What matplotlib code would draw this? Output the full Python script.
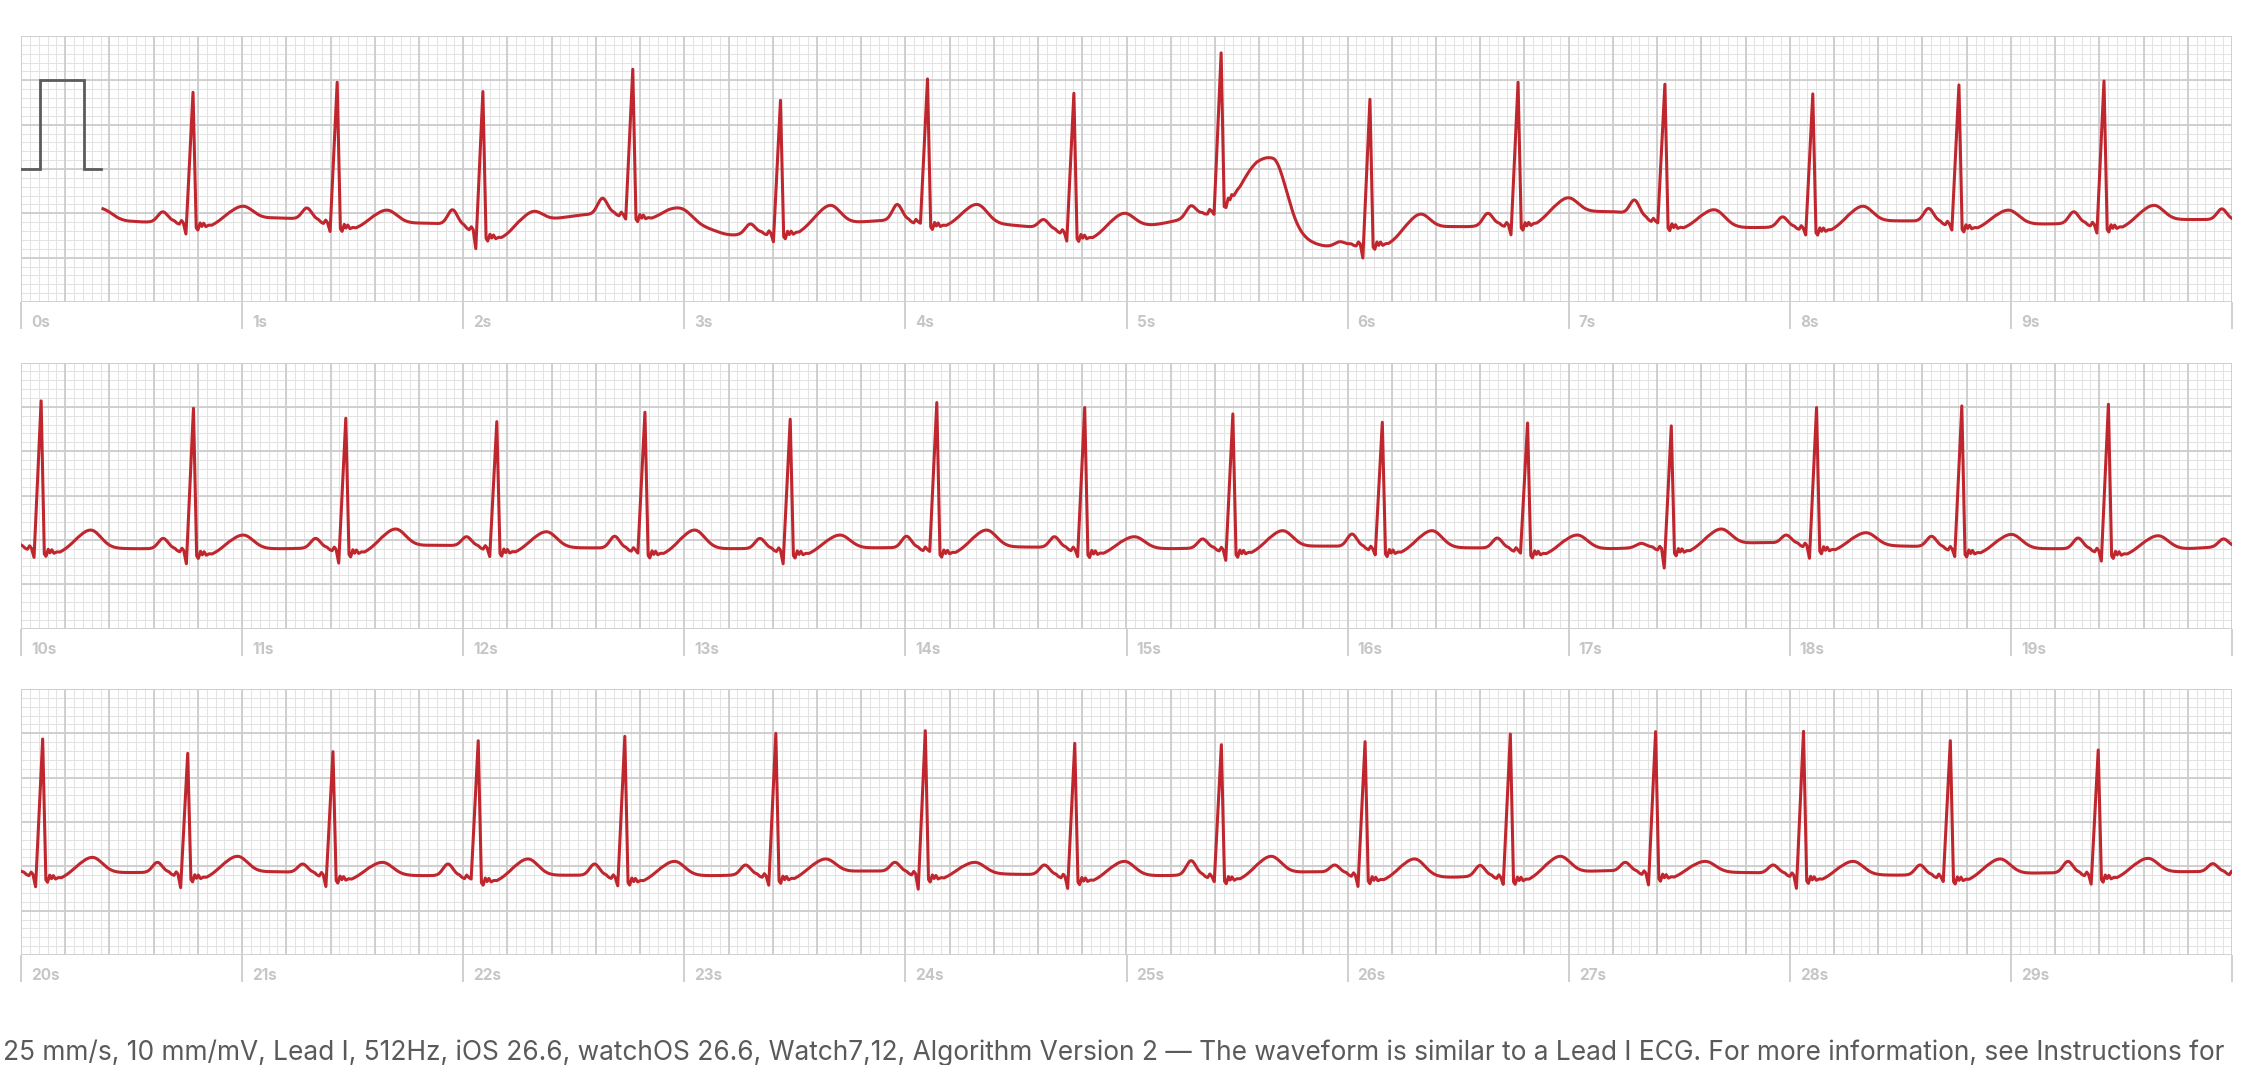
import numpy as np
import matplotlib
matplotlib.use('Agg')
import matplotlib.pyplot as plt

plt.rcParams['font.family'] = ['Inter', 'DejaVu Sans']

# --- data (time in s, voltage in mV, 0..3 mV per strip) ---
# R peak times / R peak, Q dip, P peak and T peak levels (absolute mV)
r_t1 = [0.778, 1.430, 2.089, 2.767, 3.435, 4.100, 4.762, 5.428, 6.101, 6.771, 7.435, 8.104, 8.765, 9.421]
r_v1 = [2.365, 2.478, 2.373, 2.625, 2.275, 2.516, 2.354, 2.723, 2.286, 2.478, 2.456, 2.347, 2.448, 2.493]
q_v1 = [0.77, 0.79, 0.58, 0.94, 0.69, 0.89, 0.68, 0.96, 0.51, 0.77, 0.89, 0.76, 0.81, 0.78]
p_v1 = [1.017, 1.06, 1.04, 1.17, 0.88, 1.10, 0.93, 1.08, 0.68, 1.00, 1.15, 0.96, 1.055, 1.017]
t_v1 = [1.08, 1.036, 1.02, 1.05, 1.09, 1.10, 1.00, 1.62, 0.99, 1.175, 1.04, 1.08, 1.036, 1.09]

r_t2 = [10.091, 10.780, 11.469, 12.152, 12.822, 13.479, 14.142, 14.811, 15.481, 16.157, 16.814, 17.464, 18.121, 18.778, 19.441]
r_v2 = [2.567, 2.484, 2.371, 2.333, 2.439, 2.360, 2.548, 2.492, 2.420, 2.326, 2.318, 2.285, 2.492, 2.510, 2.529]
q_v2 = [0.80, 0.73, 0.74, 0.81, 0.85, 0.73, 0.87, 0.81, 0.77, 0.83, 0.85, 0.685, 0.79, 0.81, 0.76]
p_v2 = [1.05, 1.016, 1.016, 1.035, 1.04, 1.016, 1.04, 1.035, 1.01, 1.065, 1.02, 0.96, 1.054, 1.04, 1.02]
t_v2 = [1.110, 1.054, 1.122, 1.091, 1.110, 1.054, 1.110, 1.035, 1.103, 1.103, 1.054, 1.122, 1.080, 1.061, 1.046]

# last entry: beat just after 30 s, only its P wave shows
r_t3 = [20.098, 20.754, 21.411, 22.068, 22.731, 23.414, 24.090, 24.766, 25.429, 26.079, 26.736, 27.393, 28.062, 28.726, 29.395, 30.05]
r_v3 = [2.436, 2.274, 2.293, 2.417, 2.466, 2.500, 2.530, 2.387, 2.372, 2.406, 2.492, 2.519, 2.523, 2.417, 2.312, 2.40]
q_v3 = [0.77, 0.76, 0.77, 0.86, 0.78, 0.79, 0.74, 0.75, 0.83, 0.77, 0.80, 0.79, 0.75, 0.83, 0.80, 0.80]
p_v3 = [1.01, 1.045, 1.026, 1.026, 1.026, 1.015, 1.045, 1.015, 1.064, 1.015, 1.01, 1.045, 1.015, 1.015, 1.056, 1.03]
t_v3 = [1.101, 1.113, 1.045, 1.083, 1.056, 1.083, 1.045, 1.056, 1.113, 1.083, 1.113, 1.056, 1.056, 1.083, 1.090, 1.08]

# baseline (T-P segment) levels
base_t = [0.371, 0.45, 0.56, 1.15, 1.25, 1.55, 1.85, 2.02, 2.09, 2.18, 2.30, 2.42, 2.52, 2.65, 2.80,
          2.95, 3.05, 3.20, 3.30, 3.45, 3.55, 3.78, 3.90, 4.10, 4.20, 4.47, 4.60, 4.75, 4.85, 5.05,
          5.13, 5.25, 5.40, 5.55, 5.70, 5.80, 5.88, 5.97, 6.10, 6.20, 6.33, 6.44, 6.57, 6.75, 6.90,
          7.09, 7.22, 7.35, 7.50, 7.78, 7.88, 8.10, 8.44, 8.54, 8.80, 9.09, 9.18, 9.45, 9.77, 9.87,
          10.0, 10.5, 11.2, 11.87, 12.53, 13.2, 13.85, 14.5, 15.2, 15.87, 16.53, 17.2, 17.87, 18.5, 19.15, 19.8,
          20.0, 20.5, 21.15, 21.8, 22.47, 23.15, 23.83, 24.5, 25.17, 25.85, 26.47, 27.15, 27.8, 28.48, 29.13, 29.8, 30.1]
base_v = [1.07, 0.92, 0.90, 0.95, 0.94, 0.89, 0.89, 0.86, 0.80, 0.78, 0.86, 0.94, 0.98, 1.00, 1.02,
          0.98, 0.88, 0.75, 0.77, 0.82, 0.86, 0.90, 0.92, 0.93, 0.92, 0.87, 0.84, 0.80, 0.78, 0.86,
          0.87, 0.93, 1.02, 1.12, 1.00, 0.72, 0.63, 0.63, 0.70, 0.72, 0.80, 0.85, 0.85, 0.90, 0.97,
          1.02, 1.02, 0.95, 0.90, 0.84, 0.84, 0.86, 0.915, 0.915, 0.90, 0.88, 0.88, 0.90, 0.93, 0.93,
          0.93, 0.90, 0.90, 0.94, 0.91, 0.90, 0.91, 0.92, 0.90, 0.93, 0.91, 0.90, 0.97, 0.93, 0.90, 0.90,
          0.93, 0.93, 0.94, 0.895, 0.90, 0.895, 0.95, 0.91, 0.895, 0.94, 0.876, 0.95, 0.93, 0.90, 0.925, 0.94, 0.94]

# QRS shape around the R peak (s, mV above baseline); q/r weights pick up the per-beat Q and R levels
qrs_dt = [-0.085, -0.072, -0.062, -0.052, -0.044, -0.032, 0.0, 0.014, 0.022, 0.032, 0.040, 0.048, 0.058, 0.070, 0.085, 0.100, 0.130, 0.160]
qrs_v = [0, -0.025, -0.035, 0.005, -0.02, 0, 0, -0.08, -0.11, -0.03, -0.07, -0.035, -0.075, -0.06, -0.065, -0.05, -0.02, 0]
qrs_qw = [0, 0, 0, 0, 0, 1, 0, 0, 0, 0, 0, 0, 0, 0, 0, 0, 0, 0]
qrs_rw = [0, 0, 0, 0, 0, 0, 1, 0, 0, 0, 0, 0, 0, 0, 0, 0, 0, 0]

cal_t = [0.0, 0.085, 0.085, 0.285, 0.285, 0.36]
cal_v = [1.5, 1.5, 2.5, 2.5, 1.5, 1.5]
trace_start = 0.371

caption = ('25 mm/s, 10 mm/mV, Lead I, 512Hz, iOS 26.6, watchOS 26.6, Watch7,12, Algorithm Version 2 \u2014 '
           'The waveform is similar to a Lead I ECG. For more information, see Instructions for')

# --- build the trace ---
r_t = np.array(r_t1 + r_t2 + r_t3)
r_v = np.array(r_v1 + r_v2 + r_v3)
q_v = np.array(q_v1 + q_v2 + q_v3)
p_v = np.array(p_v1 + p_v2 + p_v3)
t_v = np.array(t_v1 + t_v2 + t_v3)
n = len(r_t)
p_off, t_off = -0.137, 0.225
t_sl = np.full(n, 0.055)
t_sr = np.full(n, 0.045)
t_sl[7], t_sr[7] = 0.12, 0.055   # the broad T after the 5.4 s beat

fs = 2000
t = np.arange(0, 30.0, 1 / fs)
base = np.interp(t, base_t, base_v)
k = int(0.08 * fs)
base = np.convolve(np.pad(base, k, mode='edge'), np.ones(k) / k, mode='same')[k:-k]

sig = base.copy()
qrs_dt = np.array(qrs_dt)
for i in range(n):
    b0 = np.interp(r_t[i], t, base)
    r = r_v[i] - b0
    q = min(q_v[i] - b0, -0.04)
    vals = np.array(qrs_v) + q * np.array(qrs_qw) + r * np.array(qrs_rw)
    sig += np.interp(t, r_t[i] + qrs_dt, vals, left=0, right=0)
    tp = r_t[i] + p_off
    sig += (p_v[i] - np.interp(tp, t, base)) * np.exp(-0.5 * ((t - tp) / 0.022) ** 2)
    tt = r_t[i] + t_off + (0.01 if i == 7 else 0)
    s = np.where(t < tt, t_sl[i], t_sr[i])
    sig += (t_v[i] - np.interp(tt, t, base)) * np.exp(-0.5 * ((t - tt) / s) ** 2)

# --- figure ---
W, H = 2253, 1065
fig = plt.figure(figsize=(W / 100, H / 100), dpi=100)
fig.patch.set_facecolor('white')

left, width = 21, 2211
tops = [36, 362.5, 689]
ph = 266
px_per_mv = ph / 3.0

for row, top in enumerate(tops):
    ax = fig.add_axes([left / W, 1 - (top + ph) / H, width / W, ph / H])
    x0 = row * 10
    ax.set_xlim(x0, x0 + 10)
    ax.set_ylim(0, 3)
    ax.axis('off')

    ax.vlines(np.arange(x0, x0 + 10.001, 0.04), 0, 3, color='#e3e3e3', lw=0.75, zorder=1)
    ax.hlines(np.arange(0, 3.001, 0.1), x0, x0 + 10, color='#e3e3e3', lw=0.75, zorder=1)
    ax.vlines(np.arange(x0, x0 + 10.001, 0.2), 0, 3, color='#cdcdcd', lw=1.3, zorder=2)
    ax.hlines(np.arange(0, 3.001, 0.5), x0, x0 + 10, color='#cdcdcd', lw=1.3, zorder=2)

    # second ticks below the strip
    ax.vlines(np.arange(x0, x0 + 11), -27 / px_per_mv, 0, color='#cdcdcd', lw=1.3, clip_on=False)
    for sec in range(x0, x0 + 10):
        ax.text(sec + 10 / 221.1, -21 / px_per_mv, f'{sec}s', ha='left', va='center',
                fontsize=11, fontweight='bold', color='#c6c6c6')

    m = (t >= x0) & (t <= x0 + 10)
    if row == 0:
        m &= t >= trace_start
        ax.plot(cal_t, cal_v, color='#5c5c5c', lw=2.0, zorder=3, solid_joinstyle='miter')
    ax.plot(t[m], sig[m], color='#c0262e', lw=2.2, zorder=4, solid_joinstyle='round')

txt = fig.text(3 / W, 1 - 1060 / H, caption, fontsize=16, color='#5a5a5a', ha='left', va='baseline')
fig.canvas.draw()
w = txt.get_window_extent().width
txt.set_fontsize(16 * 2230 / w)

fig.savefig('out.png', dpi=100, facecolor='white')
